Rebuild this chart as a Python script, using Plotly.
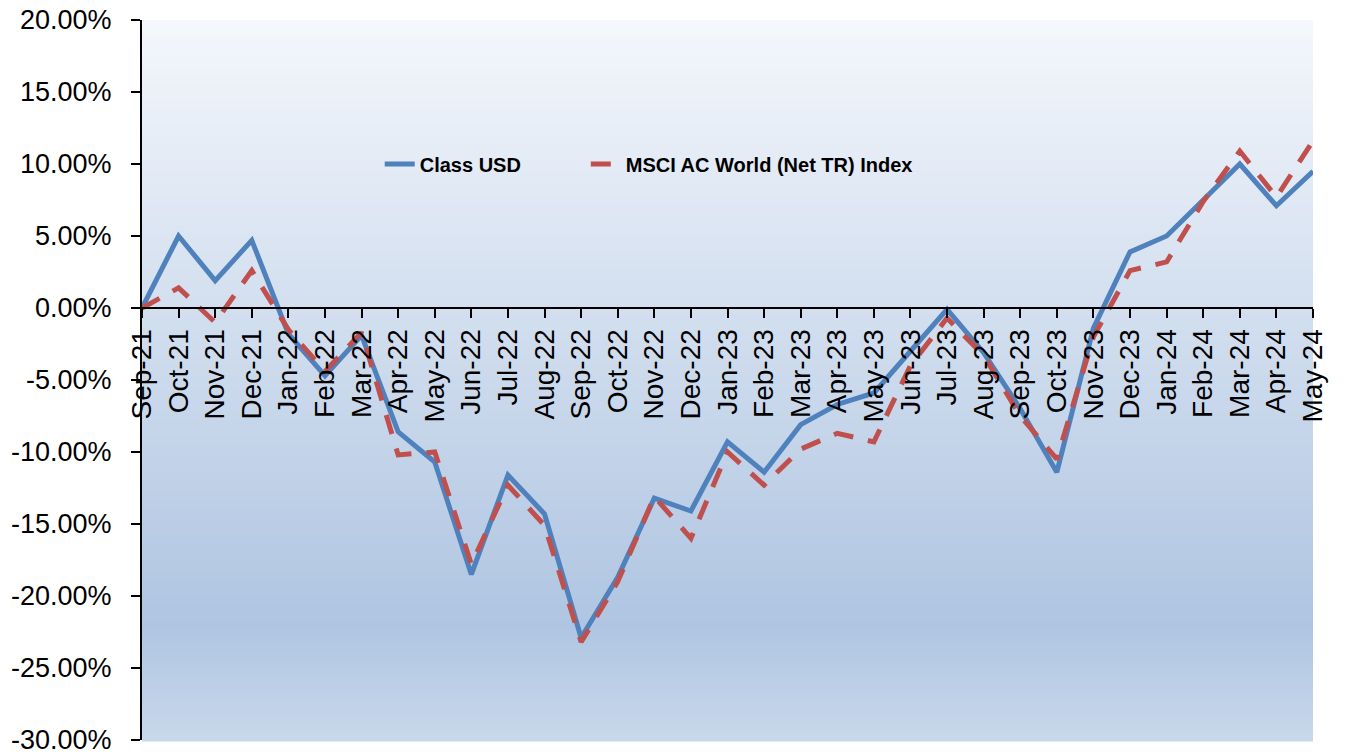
import plotly.graph_objects as go

# monthly cumulative performance, in percent
months = ["Sep-21", "Oct-21", "Nov-21", "Dec-21", "Jan-22", "Feb-22", "Mar-22",
          "Apr-22", "May-22", "Jun-22", "Jul-22", "Aug-22", "Sep-22", "Oct-22",
          "Nov-22", "Dec-22", "Jan-23", "Feb-23", "Mar-23", "Apr-23", "May-23",
          "Jun-23", "Jul-23", "Aug-23", "Sep-23", "Oct-23", "Nov-23", "Dec-23",
          "Jan-24", "Feb-24", "Mar-24", "Apr-24", "May-24"]

class_usd = [0.0, 5.0, 1.9, 4.7, -1.8, -4.7, -1.9,
             -8.6, -10.7, -18.5, -11.6, -14.3, -22.9, -18.7,
             -13.2, -14.1, -9.3, -11.4, -8.1, -6.7, -5.9,
             -3.0, -0.1, -3.1, -7.0, -11.4, -1.4, 3.9,
             5.0, 7.5, 10.0, 7.1, 9.5]

msci_acwi = [0.0, 1.4, -1.0, 2.6, -1.5, -4.4, -1.7,
             -10.2, -10.0, -17.8, -12.3, -15.1, -23.2, -19.0,
             -13.1, -16.0, -10.0, -12.3, -9.8, -8.7, -9.3,
             -4.0, -0.7, -3.3, -7.5, -10.5, -2.0, 2.6,
             3.2, 7.4, 10.9, 7.7, 11.6]

y_ticks = [20, 15, 10, 5, 0, -5, -10, -15, -20, -25, -30]
y_tick_labels = ["20.00%", "15.00%", "10.00%", "5.00%", "0.00%", "-5.00%",
                 "-10.00%", "-15.00%", "-20.00%", "-25.00%", "-30.00%"]

fig = go.Figure()

fig.add_trace(go.Scatter(x=months, y=class_usd, name="<b>Class USD</b>", mode="lines",
                         line=dict(color="#4F81BD", width=5), legend="legend"))
fig.add_trace(go.Scatter(x=months, y=msci_acwi, name="<b>MSCI AC World (Net TR) Index</b>",
                         mode="lines", legend="legend2",
                         line=dict(color="#C0504D", width=5, dash="20px,15px")))

# vertical gradient fill behind the plot area (light at top, steel blue near -22%)
def grad_color(f):
    top, mid, bot = (244, 247, 252), (175, 197, 225), (200, 216, 235)
    m = 0.84
    if f <= m:
        t = f / m
        c = [a + (b - a) * t for a, b in zip(top, mid)]
    else:
        t = (f - m) / (1 - m)
        c = [a + (b - a) * t for a, b in zip(mid, bot)]
    return "rgb(%d,%d,%d)" % tuple(round(v) for v in c)

n = 144
for i in range(n):
    f = (i + 0.5) / n
    fig.add_shape(type="rect", xref="x domain", yref="y domain",
                  x0=0, x1=1, y0=1 - i / n, y1=1 - (i + 1) / n - 0.002,
                  fillcolor=grad_color(f), line_width=0, layer="below")

legend_style = dict(orientation="h", y=0.8, xanchor="left", yanchor="middle",
                    bgcolor="rgba(0,0,0,0)",
                    font=dict(size=20, family="Liberation Sans, Arial"))

fig.update_layout(
    width=1348, height=754,
    margin=dict(l=142, r=35, t=20, b=14),
    paper_bgcolor="white",
    plot_bgcolor="rgba(0,0,0,0)",
    font=dict(family="Liberation Sans, Arial, sans-serif", color="black"),
    showlegend=True,
    legend=dict(x=0.203, **legend_style),
    legend2=dict(x=0.379, **legend_style),
)
fig.update_yaxes(range=[-30, 20], tickvals=y_ticks, ticktext=y_tick_labels,
                 automargin=False, ticklabeloverflow="allow",
                 showgrid=False, zeroline=False, showline=True, linecolor="black",
                 linewidth=2, ticks="outside", ticklen=9, tickcolor="black", tickwidth=2,
                 ticklabelstandoff=14, tickfont=dict(size=27))
fig.update_xaxes(type="category", range=[0, len(months) - 1], anchor="free",
                 position=0.6, automargin=False, showgrid=False, zeroline=False,
                 showline=True, linecolor="black", linewidth=2, ticks="outside",
                 ticklen=9, tickcolor="black", tickwidth=2, tickangle=-90,
                 tickfont=dict(size=28))

# drop the default 8px page margin so the figure fills the window exactly
fig.write_html("out.html", config={"displayModeBar": False},
               post_script="document.body.style.margin='0';document.body.style.overflow='hidden';")
